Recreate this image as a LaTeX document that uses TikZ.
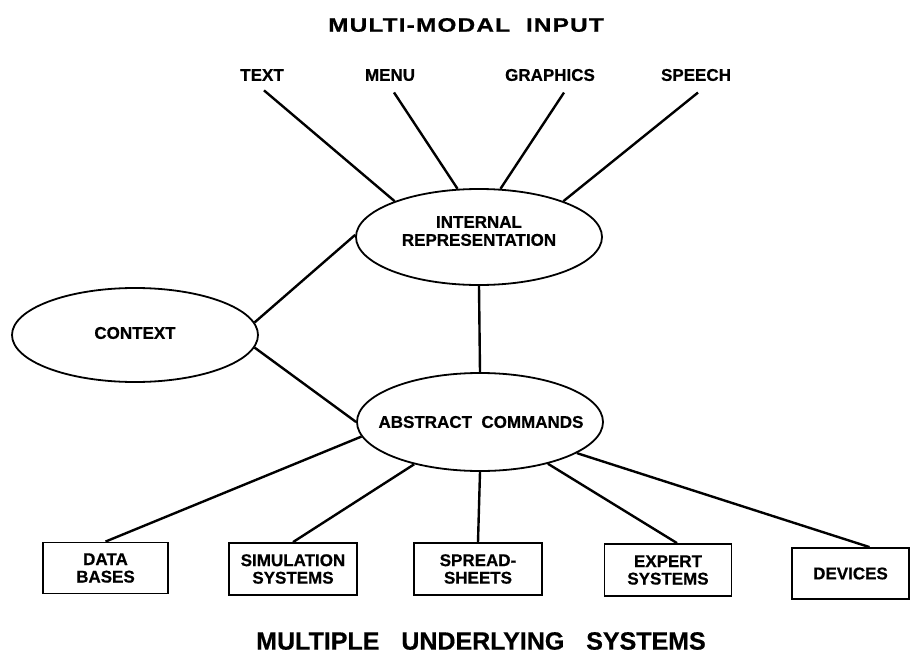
\documentclass[tikz,border=0pt]{standalone}
\usepackage{fontspec}
\usetikzlibrary{shapes.geometric,calc}
\newfontfamily\labfont[FakeBold=0.6]{Liberation Sans Bold}
\newfontfamily\headfont[FakeBold=0.6,FakeStretch=1.25,LetterSpace=6]{Liberation Sans Bold}
\newfontfamily\footfont[FakeBold=0.6]{Liberation Sans Bold}
\begin{document}
\begin{tikzpicture}[x=1pt,y=-1pt,
  wire/.style={line width=2.4pt},
  bubble/.style={ellipse,draw,line width=1.8pt,minimum width=246pt,inner sep=0pt},
  bubbletext/.style={align=center,inner sep=0pt,font=\labfont\fontsize{17}{19}\selectfont},
  sysbox/.style={rectangle,draw,line width=1.8pt,minimum width=127pt,minimum height=52pt,
                 align=center,inner sep=2pt,font=\labfont\fontsize{17}{17.5}\selectfont},
  inlabel/.style={font=\labfont\fontsize{17}{19}\selectfont},
  heading/.style={font=\headfont\fontsize{19.5}{22}\selectfont},
  footing/.style={inner sep=1pt,font=\footfont\fontsize{25}{27}\selectfont}]
\useasboundingbox (0,0) rectangle (911,656);

% headings
\node[heading] (top) at (466,25) {MULTI-MODAL\ \ INPUT};
\node[footing] (bottom) at (481,641) {MULTIPLE\hspace{0.6em} UNDERLYING\hspace{0.6em} SYSTEMS};

% input modes
\node[inlabel] (text) at (262,75) {TEXT};
\node[inlabel] (menu) at (390,75) {MENU};
\node[inlabel] (graph) at (550,75) {GRAPHICS};
\node[inlabel] (speech) at (696,75) {SPEECH};

% central ellipses and their labels
\node[bubble,minimum height=96pt] (ir) at (479,237) {};
\node[bubble,minimum height=94pt] (ctx) at (135,335) {};
\node[bubble,minimum height=98pt] (ac) at (480,422) {};
\node[bubbletext] (irlab) at (479,231) {INTERNAL\\[-1pt]REPRESENTATION};
\node[bubbletext] (ctxlab) at (135,333) {CONTEXT};
\node[bubbletext] (aclab) at (481,422) {ABSTRACT\ \ COMMANDS};

% underlying systems
\node[sysbox,minimum width=125pt,minimum height=51pt] (db) at (105.5,568) {DATA\\BASES};
\node[sysbox,minimum width=128pt] (sim) at (293,569) {SIMULATION\\SYSTEMS};
\node[sysbox,minimum width=128pt] (ss) at (478,569) {SPREAD-\\SHEETS};
\node[sysbox] (es) at (668,570) {EXPERT\\SYSTEMS};
\node[sysbox,minimum width=117pt,minimum height=51pt] (dev) at (850.5,573.5) {DEVICES};

% connectors from the input modes
\coordinate (t0) at ([xshift=2pt,yshift=-6pt]text.south);
\coordinate (m0) at ([xshift=4pt,yshift=-8pt]menu.south);
\coordinate (g0) at ([xshift=14pt,yshift=-8pt]graph.south);
\coordinate (s0) at ([xshift=2pt,yshift=-8pt]speech.south);
\draw[wire] (t0) -- (ir.157);
\draw[wire] (m0) -- (ir.114);
\draw[wire] (g0) -- (ir.66);
\draw[wire] (s0) -- (ir.23);

% context links
\draw[wire] (ctx.6) -- (ir.179);
\draw[wire] (ctx.-6) -- (ac.180);
\draw[wire] (ir.south) -- (ac.north);

% abstract commands to the systems
\coordinate (devtop) at ([xshift=19pt]dev.north);
\coordinate (estop) at ([xshift=9pt]es.north);
\draw[wire] (ac.187) -- (db.north);
\draw[wire] (ac) -- (sim.north);
\draw[wire] (ac.south) -- (ss.north);
\draw[wire] (ac) -- (estop);
\draw[wire] (ac) -- (devtop);
\end{tikzpicture}
\end{document}
